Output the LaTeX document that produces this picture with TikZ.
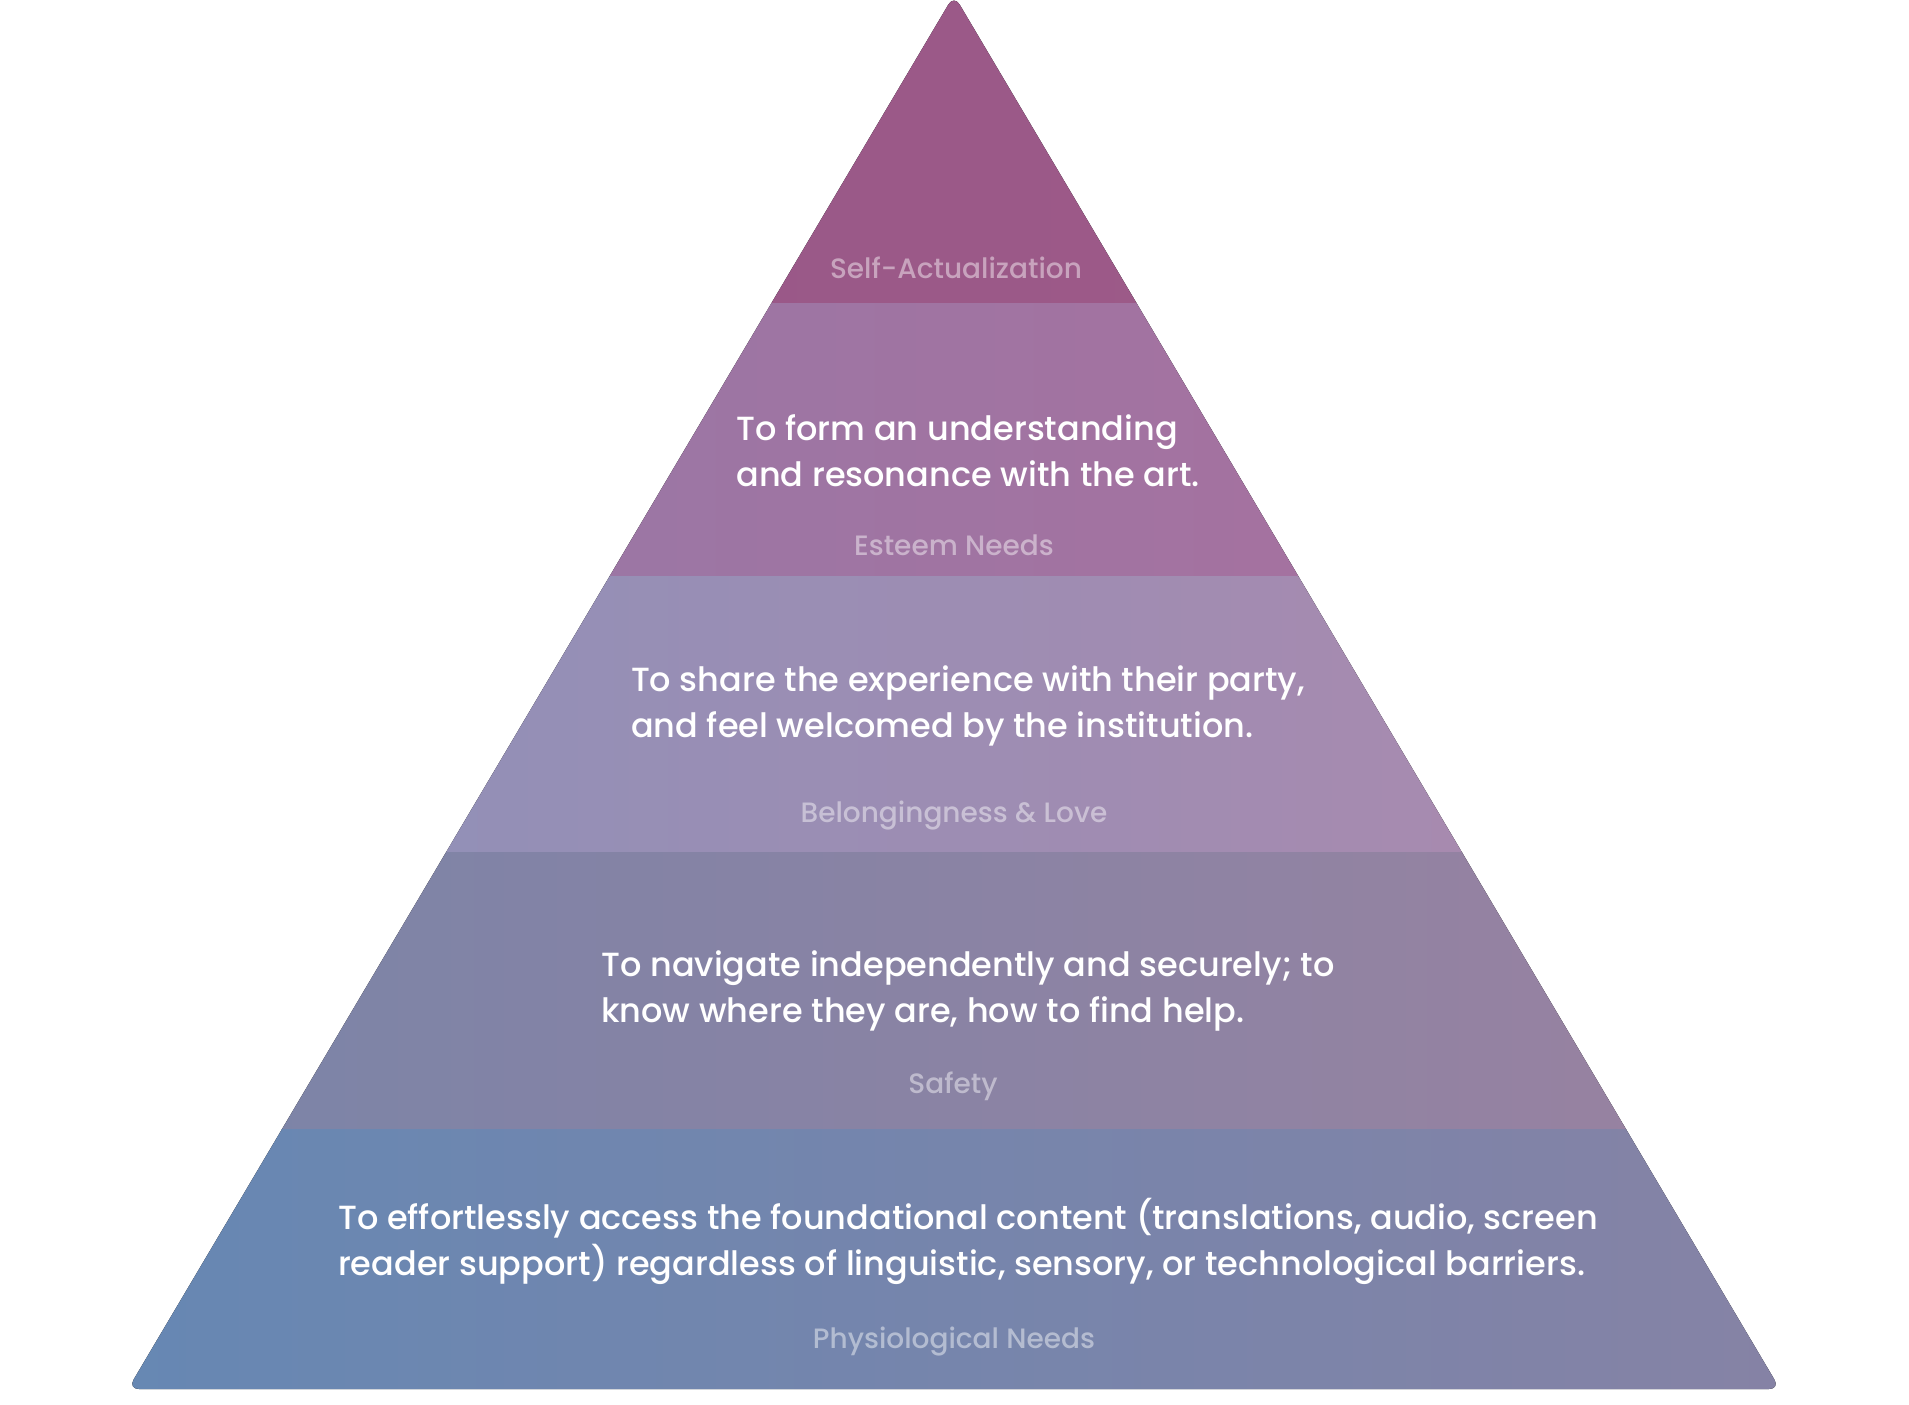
\documentclass[tikz,border=0pt]{standalone}
\usepackage{fontspec}
\setmainfont{Poppins}
\newfontfamily\goalfont{Poppins Medium}
\usepackage{xcolor}
\definecolor{SAl}{RGB}{150,86,134}
\definecolor{SAr}{RGB}{160,92,138}
\definecolor{ESl}{RGB}{148,122,168}
\definecolor{ESr}{RGB}{172,110,156}
\definecolor{BLl}{RGB}{138,146,186}
\definecolor{BLr}{RGB}{176,136,172}
\definecolor{SFl}{RGB}{120,132,168}
\definecolor{SFr}{RGB}{156,130,160}
\definecolor{PHl}{RGB}{100,136,180}
\definecolor{PHr}{RGB}{136,130,164}

\begin{document}
\begin{tikzpicture}[
  x=1pt, y=-1pt,
  band/.style 2 args={left color=#1, right color=#2},
  goal/.style={text=white, align=left, inner sep=0pt,
               font=\goalfont\fontsize{33.5}{46}\selectfont},
  need/.style={text=white, text opacity=0.45, inner sep=0pt,
               font=\goalfont\fontsize{28}{34}\selectfont}
]
\useasboundingbox (0,0) rectangle (1909,1405);

% Pyramid bands
\begin{scope}
  \clip[rounded corners=11pt] (954,-5) -- (1780,1389) -- (128,1389) -- cycle;
  \fill[band={SAl}{SAr}] (0,-10) rectangle (1909,303);
  \fill[band={ESl}{ESr}] (0,303) rectangle (1909,576);
  \fill[band={BLl}{BLr}] (0,576) rectangle (1909,852);
  \fill[band={SFl}{SFr}] (0,852) rectangle (1909,1129);
  \fill[band={PHl}{PHr}] (0,1129) rectangle (1909,1400);
\end{scope}

% Level names
\node[need] (selfact) at (956,268) {Self-Actualization};
\node[need] (esteem) at (954,545) {Esteem Needs};
\node[need] (belong) at (954,816) {Belongingness \& Love};
\node[need] (safety) at (953,1086) {Safety};
\node[need] (physio) at (954,1342) {Physiological Needs};

% Goals
\node[goal] (esteemgoal) at (968,451)
  {To form an understanding\\and resonance with the art.};
\node[goal] (belonggoal) at (968,706)
  {To share the experience with their party,\\and feel welcomed by the institution.};
\node[goal] (safetygoal) at (968,991)
  {To navigate independently and securely; to\\know where they are, how to find help.};
\node[goal] (physiogoal) at (968,1241)
  {To effortlessly access the foundational content (translations, audio, screen\\reader support) regardless of linguistic, sensory, or technological barriers.};
\end{tikzpicture}
\end{document}
